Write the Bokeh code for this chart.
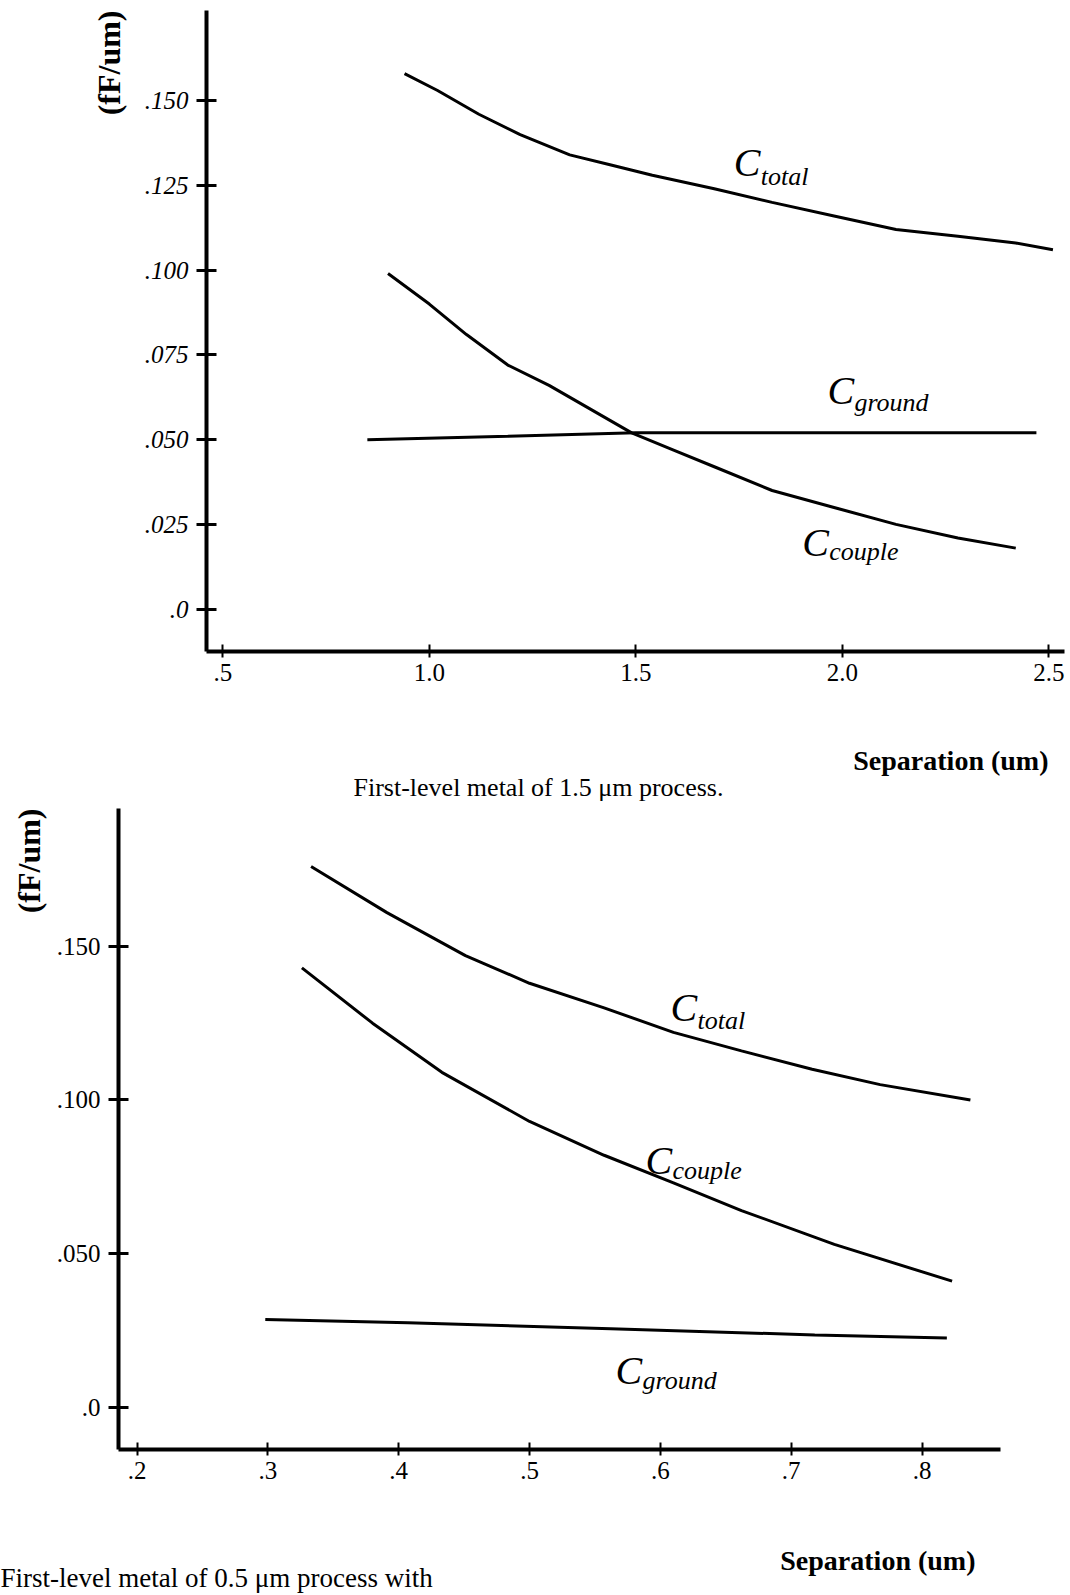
from bokeh.plotting import figure
from bokeh.models import FixedTicker, Label, Range1d, Title
from bokeh.layouts import column, row
from bokeh.embed import file_html
from bokeh.resources import INLINE

SERIF = "Liberation Serif"

# ---------------- data: upper panel (first-level metal, 1.5 um process) ----------------
top_sep_total = [0.94, 1.02, 1.12, 1.22, 1.34, 1.44, 1.54, 1.69, 1.83, 1.98, 2.13, 2.28, 2.42, 2.51]
top_c_total = [0.158, 0.153, 0.146, 0.140, 0.134, 0.131, 0.128, 0.124, 0.120, 0.116, 0.112, 0.110, 0.108, 0.106]
top_sep_couple = [0.90, 1.00, 1.09, 1.19, 1.29, 1.39, 1.49, 1.59, 1.69, 1.83, 1.98, 2.13, 2.28, 2.42]
top_c_couple = [0.099, 0.090, 0.081, 0.072, 0.066, 0.059, 0.052, 0.047, 0.042, 0.035, 0.030, 0.025, 0.021, 0.018]
top_sep_ground = [0.85, 1.19, 1.50, 1.93, 2.47]
top_c_ground = [0.050, 0.051, 0.052, 0.052, 0.052]
top_x_ticks = [0.5, 1.0, 1.5, 2.0, 2.5]
top_x_labels = [".5", "1.0", "1.5", "2.0", "2.5"]
top_y_ticks = [0, 0.025, 0.05, 0.075, 0.1, 0.125, 0.15]
top_y_labels = [".0", ".025", ".050", ".075", ".100", ".125", ".150"]

# ---------------- data: lower panel (first-level metal, 0.5 um process) ----------------
bot_sep_total = [0.333, 0.391, 0.451, 0.500, 0.557, 0.610, 0.662, 0.716, 0.768, 0.837]
bot_c_total = [0.176, 0.161, 0.147, 0.138, 0.130, 0.122, 0.116, 0.110, 0.105, 0.100]
bot_sep_couple = [0.326, 0.380, 0.433, 0.500, 0.557, 0.610, 0.662, 0.733, 0.823]
bot_c_couple = [0.143, 0.125, 0.109, 0.093, 0.082, 0.073, 0.064, 0.053, 0.041]
bot_sep_ground = [0.298, 0.407, 0.562, 0.718, 0.819]
bot_c_ground = [0.0285, 0.0275, 0.0255, 0.0235, 0.0225]
bot_x_ticks = [0.2, 0.3, 0.4, 0.5, 0.6, 0.7, 0.8]
bot_x_labels = [".2", ".3", ".4", ".5", ".6", ".7", ".8"]
bot_y_ticks = [0, 0.05, 0.1, 0.15]
bot_y_labels = [".0", ".050", ".100", ".150"]


def make_panel(height, xr, yr, borders, x_ticks, x_labels, y_ticks, y_labels, y_italic,
               spacer_size, spacer_standoff):
    left, right, top, bottom = borders
    p = figure(width=1070, height=height, x_range=Range1d(*xr), y_range=Range1d(*yr),
               output_backend="svg", toolbar_location=None,
               min_border_left=left, min_border_right=right,
               min_border_top=top, min_border_bottom=bottom)
    p.xgrid.visible = False
    p.ygrid.visible = False
    p.outline_line_color = None
    p.background_fill_color = "white"
    p.border_fill_color = "white"
    for ax in (p.xaxis[0], p.yaxis[0]):
        ax.axis_line_width = 4
        ax.axis_line_color = "black"
        ax.major_tick_line_color = "black"
        ax.minor_tick_line_color = None
        ax.major_label_text_font = SERIF
        ax.major_label_text_color = "black"
    xa = p.xaxis[0]
    xa.ticker = FixedTicker(ticks=x_ticks)
    xa.major_label_overrides = dict(zip(x_ticks, x_labels))
    xa.major_tick_in = 7
    xa.major_tick_out = 6
    xa.major_tick_line_width = 2
    xa.major_label_text_font_size = "25px"
    xa.major_label_standoff = 6
    # blank axis label used only as vertical spacing below the tick labels
    xa.axis_label = "\u00a0"
    xa.axis_label_text_font_size = spacer_size
    xa.axis_label_standoff = spacer_standoff
    ya = p.yaxis[0]
    ya.ticker = FixedTicker(ticks=y_ticks)
    ya.major_label_overrides = dict(zip(y_ticks, y_labels))
    ya.major_tick_in = 10
    ya.major_tick_out = 10
    ya.major_tick_line_width = 3
    ya.major_label_text_font_size = "25px"
    ya.major_label_standoff = 8
    if y_italic:
        ya.major_label_text_font_style = "italic"
    return p


def curve_label(p, xc, yc, sub, sub_dy):
    p.add_layout(Label(x=xc, y=yc, text="C", text_font=SERIF, text_font_style="italic",
                       text_font_size="40px", text_baseline="alphabetic", text_align="left",
                       text_color="black"))
    p.add_layout(Label(x=xc, y=yc, x_offset=27, y_offset=-sub_dy, text=sub, text_font=SERIF,
                       text_font_style="italic", text_font_size="26px",
                       text_baseline="alphabetic", text_align="left", text_color="black"))


def title(p, place, s, size, style="normal", align="left", offset=0, standoff=0):
    p.add_layout(Title(text=s, align=align, offset=offset, standoff=standoff,
                       text_font=SERIF, text_font_size=size, text_font_style=style,
                       text_color="black"), place)


# ---------------- upper panel ----------------
p1 = make_panel(808, (0.4605, 2.538), (-0.0125, 0.1766), (206, 6, 10, 157),
                top_x_ticks, top_x_labels, top_y_ticks, top_y_labels, True, "24px", 29)
p1.line(top_sep_total, top_c_total, line_color="black", line_width=3)
p1.line(top_sep_couple, top_c_couple, line_color="black", line_width=3)
p1.line(top_sep_ground, top_c_ground, line_color="black", line_width=3)
curve_label(p1, 1.737, 0.1319, "total", 14)
curve_label(p1, 1.964, 0.0645, "ground", 12)
curve_label(p1, 1.903, 0.0198, "couple", 9)
title(p1, "left", "(fF/um)", "32px", style="bold", align="right", standoff=30)
title(p1, "below", "Separation  (um)", "28px", style="bold", align="right", offset=9, standoff=0)
title(p1, "below", "First-level metal of 1.5 \u03bcm process.", "26px", align="left", offset=147, standoff=-10)

# ---------------- lower panel ----------------
p2 = make_panel(787, (0.1858, 0.86), (-0.0138, 0.1949), (118, 70, 0, 146),
                bot_x_ticks, bot_x_labels, bot_y_ticks, bot_y_labels, False, "20px", 36)
p2.line(bot_sep_total, bot_c_total, line_color="black", line_width=3)
p2.line(bot_sep_couple, bot_c_couple, line_color="black", line_width=3)
p2.line(bot_sep_ground, bot_c_ground, line_color="black", line_width=3)
curve_label(p2, 0.6078, 0.1302, "total", 13)
curve_label(p2, 0.5887, 0.0803, "couple", 10)
curve_label(p2, 0.5657, 0.0119, "ground", 10)
title(p2, "left", "(fF/um)", "32px", style="bold", align="right", standoff=14)
title(p2, "below", "Separation  (um)", "28px", style="bold", align="right", offset=18, standoff=0)
title(p2, "below", "First-level metal of 0.5 \u03bcm process with", "27px", align="left", offset=-118, standoff=-30)

layout = column(row(p1), row(p2), spacing=0)
open("out.html", "w").write(file_html(layout, INLINE))
